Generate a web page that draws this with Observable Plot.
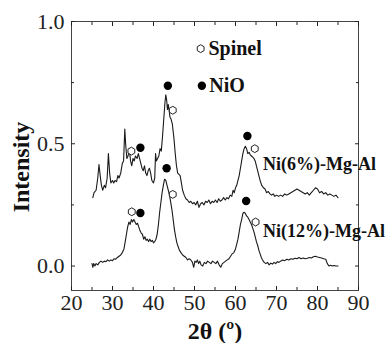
<!DOCTYPE html>
<html>
<head>
<meta charset="utf-8">
<script src="https://cdn.jsdelivr.net/npm/d3@7"></script>
<script src="https://cdn.jsdelivr.net/npm/@observablehq/plot@0.6"></script>
<style>
  html, body { margin: 0; padding: 0; background: #fff; }
  #chart svg, #chart svg text { font-family: "Liberation Serif", "DejaVu Serif", serif !important; }
</style>
</head>
<body>
<div id="chart"></div>
<script>
// Ni(6%)-Mg-Al trace
const x6 = [25.2,25.5,26.0,26.4,26.7,27.0,27.3,27.6,28.0,28.3,28.7,29.0,29.3,29.6,30.0,30.3,30.6,31.0,31.3,31.6,32.0,32.4,32.7,33.0,33.2,33.5,33.8,34.1,34.4,34.7,35.0,35.3,35.6,36.0,36.3,36.6,36.9,37.2,37.5,37.8,38.1,38.4,38.7,39.0,39.3,39.6,40.0,40.3,40.5,40.7,41.0,41.3,41.6,41.9,42.2,42.5,42.8,43.0,43.2,43.4,43.6,43.8,44.0,44.3,44.6,45.0,45.3,45.6,45.9,46.2,46.5,46.8,47.1,47.5,47.9,48.3,48.7,49.1,49.5,49.9,50.3,50.7,51.1,51.5,51.9,52.3,52.7,53.1,53.5,53.9,54.3,54.7,55.1,55.5,55.9,56.3,56.7,57.1,57.5,57.9,58.3,58.7,59.1,59.4,59.7,60.0,60.3,60.6,60.9,61.2,61.5,61.8,62.1,62.4,62.7,63.0,63.3,63.6,63.9,64.2,64.5,64.8,65.1,65.4,65.7,66.0,66.4,66.8,67.2,67.6,68.0,68.4,68.8,69.2,69.6,70.0,70.5,71.0,71.5,72.0,72.5,73.0,73.5,74.0,74.5,75.0,75.5,76.0,76.5,77.0,77.5,78.0,78.5,79.0,79.5,80.0,80.5,81.0,81.5,82.0,82.5,83.0,83.5,84.0,84.5,85.0];
const y6 = [0.28,0.30,0.31,0.36,0.415,0.37,0.33,0.31,0.33,0.32,0.36,0.46,0.38,0.34,0.35,0.34,0.35,0.345,0.37,0.36,0.38,0.42,0.43,0.56,0.50,0.44,0.45,0.48,0.43,0.41,0.44,0.43,0.45,0.44,0.46,0.44,0.42,0.40,0.39,0.41,0.38,0.37,0.39,0.40,0.38,0.35,0.34,0.36,0.46,0.43,0.44,0.45,0.48,0.47,0.53,0.60,0.67,0.70,0.68,0.64,0.66,0.64,0.61,0.60,0.58,0.52,0.46,0.41,0.38,0.375,0.37,0.34,0.31,0.29,0.275,0.27,0.26,0.265,0.255,0.26,0.25,0.265,0.24,0.255,0.26,0.25,0.265,0.26,0.27,0.255,0.265,0.26,0.27,0.26,0.275,0.265,0.27,0.28,0.27,0.28,0.275,0.29,0.285,0.31,0.30,0.32,0.33,0.35,0.37,0.40,0.43,0.46,0.48,0.49,0.48,0.46,0.465,0.455,0.45,0.445,0.44,0.43,0.41,0.39,0.37,0.35,0.33,0.32,0.315,0.30,0.305,0.295,0.29,0.295,0.285,0.29,0.285,0.29,0.285,0.295,0.29,0.295,0.30,0.305,0.31,0.315,0.31,0.305,0.30,0.295,0.30,0.29,0.30,0.31,0.32,0.315,0.30,0.305,0.295,0.30,0.29,0.295,0.29,0.285,0.29,0.28];

// Ni(12%)-Mg-Al trace
const x12 = [25.0,25.2,25.4,25.7,26.0,26.4,26.8,27.2,27.6,28.0,28.4,28.8,29.2,29.6,30.0,30.4,30.8,31.2,31.6,32.0,32.4,32.8,33.1,33.4,33.7,34.0,34.3,34.6,34.9,35.2,35.5,35.8,36.1,36.4,36.7,37.0,37.3,37.6,37.9,38.2,38.5,38.8,39.1,39.4,39.7,40.0,40.3,40.6,40.9,41.2,41.5,41.8,42.1,42.4,42.7,43.0,43.3,43.6,43.9,44.2,44.5,44.8,45.1,45.4,45.7,46.0,46.3,46.7,47.1,47.5,47.9,48.3,48.7,49.1,49.5,49.8,50.1,50.4,50.7,51.0,51.3,51.6,52.0,52.4,52.8,53.2,53.6,54.0,54.4,54.8,55.2,55.6,56.0,56.4,56.8,57.2,57.6,58.0,58.4,58.8,59.2,59.6,60.0,60.3,60.6,60.9,61.2,61.5,61.8,62.1,62.4,62.7,63.0,63.3,63.6,63.9,64.2,64.5,64.8,65.1,65.4,65.7,66.0,66.3,66.6,67.0,67.4,67.8,68.2,68.6,69.0,69.4,69.8,70.2,70.6,71.0,71.5,72.0,72.5,73.0,73.5,74.0,74.5,75.0,75.5,76.0,76.5,77.0,77.5,78.0,78.5,79.0,79.5,80.0,80.5,81.0,81.5,82.0,82.4,82.8,83.2,83.6,84.0,84.5,85.0];
const y12 = [0.01,-0.005,0.01,0.0,0.01,0.005,0.015,0.02,0.015,0.02,0.018,0.025,0.02,0.025,0.022,0.03,0.028,0.035,0.04,0.045,0.055,0.07,0.10,0.13,0.16,0.18,0.17,0.19,0.18,0.19,0.18,0.17,0.175,0.16,0.145,0.135,0.13,0.11,0.12,0.105,0.11,0.10,0.11,0.10,0.105,0.095,0.10,0.11,0.13,0.17,0.22,0.26,0.30,0.33,0.355,0.35,0.33,0.31,0.29,0.26,0.23,0.19,0.15,0.12,0.095,0.08,0.065,0.055,0.045,0.04,0.035,0.025,0.03,0.025,0.015,-0.005,0.02,0.015,0.025,0.01,0.02,0.005,0.0,0.015,0.01,0.02,0.015,0.01,0.02,0.015,0.01,0.02,0.005,-0.005,0.01,0.015,0.02,0.025,0.03,0.04,0.05,0.055,0.07,0.09,0.11,0.14,0.17,0.19,0.215,0.22,0.215,0.205,0.20,0.19,0.18,0.17,0.155,0.14,0.12,0.10,0.085,0.065,0.05,0.035,0.025,0.015,0.01,0.015,0.005,0.012,0.008,0.015,0.01,0.018,0.015,0.02,0.025,0.022,0.028,0.025,0.03,0.028,0.032,0.03,0.035,0.03,0.033,0.03,0.032,0.035,0.033,0.038,0.04,0.037,0.035,0.033,0.03,0.028,0.01,0.0,0.003,0.0,0.002,0.0,0.0];

// phase markers
const nioX = [36.8, 43.5, 62.9, 43.2, 36.8, 62.6];
const nioY = [0.484, 0.737, 0.532, 0.40, 0.217, 0.266];
const spinelX = [34.6, 44.7, 64.7, 44.7, 34.7, 64.9];
const spinelY = [0.47, 0.637, 0.48, 0.293, 0.222, 0.18];

// in-plot legend
const legendText = ["Spinel", "NiO"];
const legendX = [53.4, 53.6];
const legendY = [0.889, 0.737];
const legendNioX = [51.8];
const legendNioY = [0.737];
const legendSpinelX = [51.5];
const legendSpinelY = [0.889];

// series labels
const seriesText = ["Ni(6%)-Mg-Al", "Ni(12%)-Mg-Al"];
const seriesX = [66.7, 66.7];
const seriesY = [0.418, 0.143];

// ticks
const xMajor = [20, 30, 40, 50, 60, 70, 80, 90];
const xMinor = [25, 35, 45, 55, 65, 75, 85];
const yMajor = [0, 0.5, 1.0];
const yMinor = [0.25, 0.75];
const xLabel = "2θ (º)";
const yLabel = "Intensity";

const FONT = "Liberation Serif";

const s6 = x6.map((x, i) => ({x, y: y6[i]}));
const s12 = x12.map((x, i) => ({x, y: y12[i]}));
const nio = nioX.map((x, i) => ({x, y: nioY[i]}));
const spinel = spinelX.map((x, i) => ({x, y: spinelY[i]}));
const legend = legendText.map((t, i) => ({t, x: legendX[i], y: legendY[i]}));
const lNio = legendNioX.map((x, i) => ({x, y: legendNioY[i]}));
const lSp = legendSpinelX.map((x, i) => ({x, y: legendSpinelY[i]}));
const series = seriesText.map((t, i) => ({t, x: seriesX[i], y: seriesY[i]}));

const chart = Plot.plot({
  width: 388,
  height: 343,
  marginLeft: 71,
  marginRight: 30,
  marginTop: 21,
  marginBottom: 53,
  style: {fontFamily: FONT, fontSize: "20px", background: "#fff", color: "#222", overflow: "visible"},
  x: {domain: [20, 90]},
  y: {domain: [-0.1, 1.0]},
  marks: [
    Plot.frame({stroke: "#444", strokeWidth: 1}),
    Plot.axisX(xMajor, {tickSize: 0, tickPadding: 4, label: null, tickFormat: d => String(d), fontSize: 22, fontFamily: FONT, fill: "#222"}),
    Plot.axisX(xMajor, {tickSize: -4, tickFormat: () => "", label: null}),
    Plot.axisX(xMinor, {tickSize: -3, tickFormat: () => "", label: null}),
    Plot.axisX(xMajor, {anchor: "top", tickSize: -4, tickFormat: () => "", label: null}),
    Plot.axisX(xMinor, {anchor: "top", tickSize: -3, tickFormat: () => "", label: null}),
    Plot.axisY(yMajor, {tickSize: 0, tickPadding: 7, label: null, tickFormat: d3.format(".1f"), fontSize: 22, fontFamily: FONT, fill: "#222"}),
    Plot.axisY(yMajor, {tickSize: -4, tickFormat: () => "", label: null}),
    Plot.axisY(yMinor, {tickSize: -3, tickFormat: () => "", label: null}),
    Plot.axisY(yMajor, {anchor: "right", tickSize: -4, tickFormat: () => "", label: null}),
    Plot.axisY(yMinor, {anchor: "right", tickSize: -3, tickFormat: () => "", label: null}),
    Plot.line(s6, {x: "x", y: "y", stroke: "#1a1a1a", strokeWidth: 1.1}),
    Plot.line(s12, {x: "x", y: "y", stroke: "#1a1a1a", strokeWidth: 1.1}),
    Plot.dot(nio, {x: "x", y: "y", r: 4.2, fill: "#000", stroke: "none"}),
    Plot.dot(spinel, {x: "x", y: "y", r: 3.4, symbol: "hexagon", fill: "#fff", stroke: "#222", strokeWidth: 1}),
    Plot.dot(lNio, {x: "x", y: "y", r: 4.2, fill: "#000", stroke: "none"}),
    Plot.dot(lSp, {x: "x", y: "y", r: 3.4, symbol: "hexagon", fill: "#fff", stroke: "#222", strokeWidth: 1}),
    Plot.text(legend, {x: "x", y: "y", text: "t", textAnchor: "start", fontWeight: "bold", fontSize: 20, fontFamily: FONT, fill: "#111"}),
    Plot.text(series, {x: "x", y: "y", text: "t", textAnchor: "start", fontWeight: "bold", fontSize: 18, fontFamily: FONT, fill: "#111"}),
    Plot.text([xLabel], {frameAnchor: "bottom", dy: 41, textAnchor: "middle", lineAnchor: "middle", text: d => d, fontWeight: "bold", fontSize: 24, fontFamily: FONT, fill: "#111"}),
    Plot.text([yLabel], {frameAnchor: "left", dx: -50, dy: 11, textAnchor: "middle", lineAnchor: "middle", rotate: -90, text: d => d, fontWeight: "bold", fontSize: 24, fontFamily: FONT, fill: "#111"})
  ]
});
document.getElementById("chart").appendChild(chart);
</script>
</body>
</html>
